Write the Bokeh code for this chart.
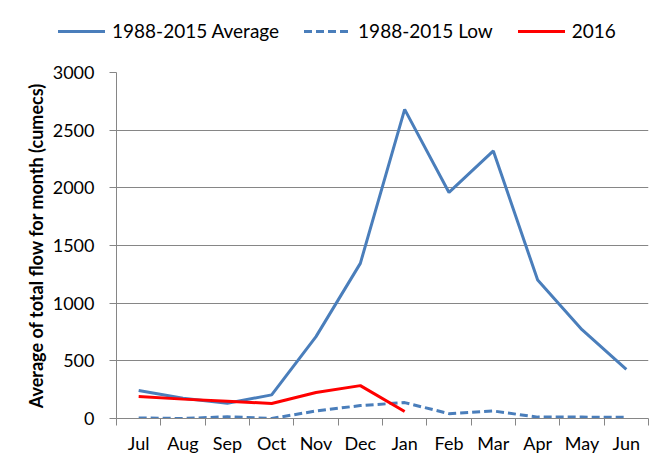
from bokeh.plotting import figure
from bokeh.models import Range1d, FixedTicker, Div
from bokeh.layouts import column
from bokeh.embed import file_html
from bokeh.resources import INLINE

months = ["Jul", "Aug", "Sep", "Oct", "Nov", "Dec", "Jan", "Feb", "Mar", "Apr", "May", "Jun"]
avg_flow = [243, 175, 133, 205, 710, 1345, 2680, 1960, 2320, 1200, 770, 425]
low_flow = [5, 0, 15, 0, 65, 112, 138, 42, 65, 12, 12, 10]
flow_2016 = [190, 168, 150, 130, 225, 285, 60]
y_ticks = [0, 500, 1000, 1500, 2000, 2500, 3000]
series_names = ["1988-2015 Average", "1988-2015 Low", "2016"]

FONT = "Lato"
GREY = "#868686"
BLUE = "#4A7EBB"
RED = "#FF0000"
W = 654
LEG_H = 58
MAIN_H = 398

xs = [i + 0.5 for i in range(len(months))]

# ---- legend strip (HTML text) ----
def key_item(name, color, dashed):
    if dashed:
        bg = (f"repeating-linear-gradient(to right, {color} 0px, {color} 8px, "
              f"transparent 8px, transparent 12px)")
    else:
        bg = color
    return (f'<span style="display:inline-flex;align-items:center;margin-right:25px;">'
            f'<span style="display:inline-block;width:47px;height:3px;background:{bg};'
            f'margin-right:7px;"></span><span>{name}</span></span>')

items_html = "".join([
    key_item(series_names[0], BLUE, False),
    key_item(series_names[1], BLUE, True),
    key_item(series_names[2], RED, False),
])
legend_div = Div(
    text=(f'<div style="display:flex;align-items:center;height:24px;margin-top:19px;'
          f'padding-left:58px;font-family:{FONT};font-size:19px;color:black;'
          f'white-space:nowrap;line-height:24px;">{items_html}</div>'),
    width=W, height=LEG_H, margin=(0, 0, 0, 0))

# ---- main chart ----
p = figure(width=W, height=MAIN_H, output_backend="svg", toolbar_location=None,
           x_range=Range1d(0, len(months)), y_range=Range1d(0, 3000),
           min_border_left=116, min_border_right=6, min_border_top=14, min_border_bottom=38)
p.outline_line_color = None
p.background_fill_color = "white"
p.border_fill_color = "white"
p.xgrid.visible = False
p.ygrid.grid_line_color = GREY
p.ygrid.grid_line_width = 1

xa = p.xaxis[0]
xa.ticker = FixedTicker(ticks=xs, minor_ticks=list(range(len(months) + 1)))
xa.major_label_overrides = {x: m for x, m in zip(xs, months)}
xa.major_tick_out = 0
xa.major_tick_in = 0
xa.minor_tick_out = 7
xa.minor_tick_in = 0
xa.minor_tick_line_color = GREY
xa.axis_line_color = GREY
xa.major_label_text_font = FONT
xa.major_label_text_font_size = "18px"
xa.major_label_text_color = "black"
xa.major_label_standoff = 6

ya = p.yaxis[0]
ya.ticker = FixedTicker(ticks=y_ticks)
ya.major_tick_out = 7
ya.major_tick_in = 0
ya.minor_tick_line_color = None
ya.major_tick_line_color = GREY
ya.axis_line_color = GREY
ya.major_label_text_font = FONT
ya.major_label_text_font_size = "18px"
ya.major_label_text_color = "black"
ya.major_label_standoff = 15
ya.axis_label = "Average of total flow for month (cumecs)"
ya.axis_label_text_font = FONT
ya.axis_label_text_font_size = "18px"
ya.axis_label_text_font_style = "bold"
ya.axis_label_text_color = "black"
ya.axis_label_standoff = 3

p.line(xs, avg_flow, line_color=BLUE, line_width=3)
p.line(xs, low_flow, line_color=BLUE, line_width=3, line_dash="8 4")
p.line(xs[:len(flow_2016)], flow_2016, line_color=RED, line_width=3)

layout = column(legend_div, p, spacing=0)
open("out.html", "w").write(file_html(layout, INLINE))
